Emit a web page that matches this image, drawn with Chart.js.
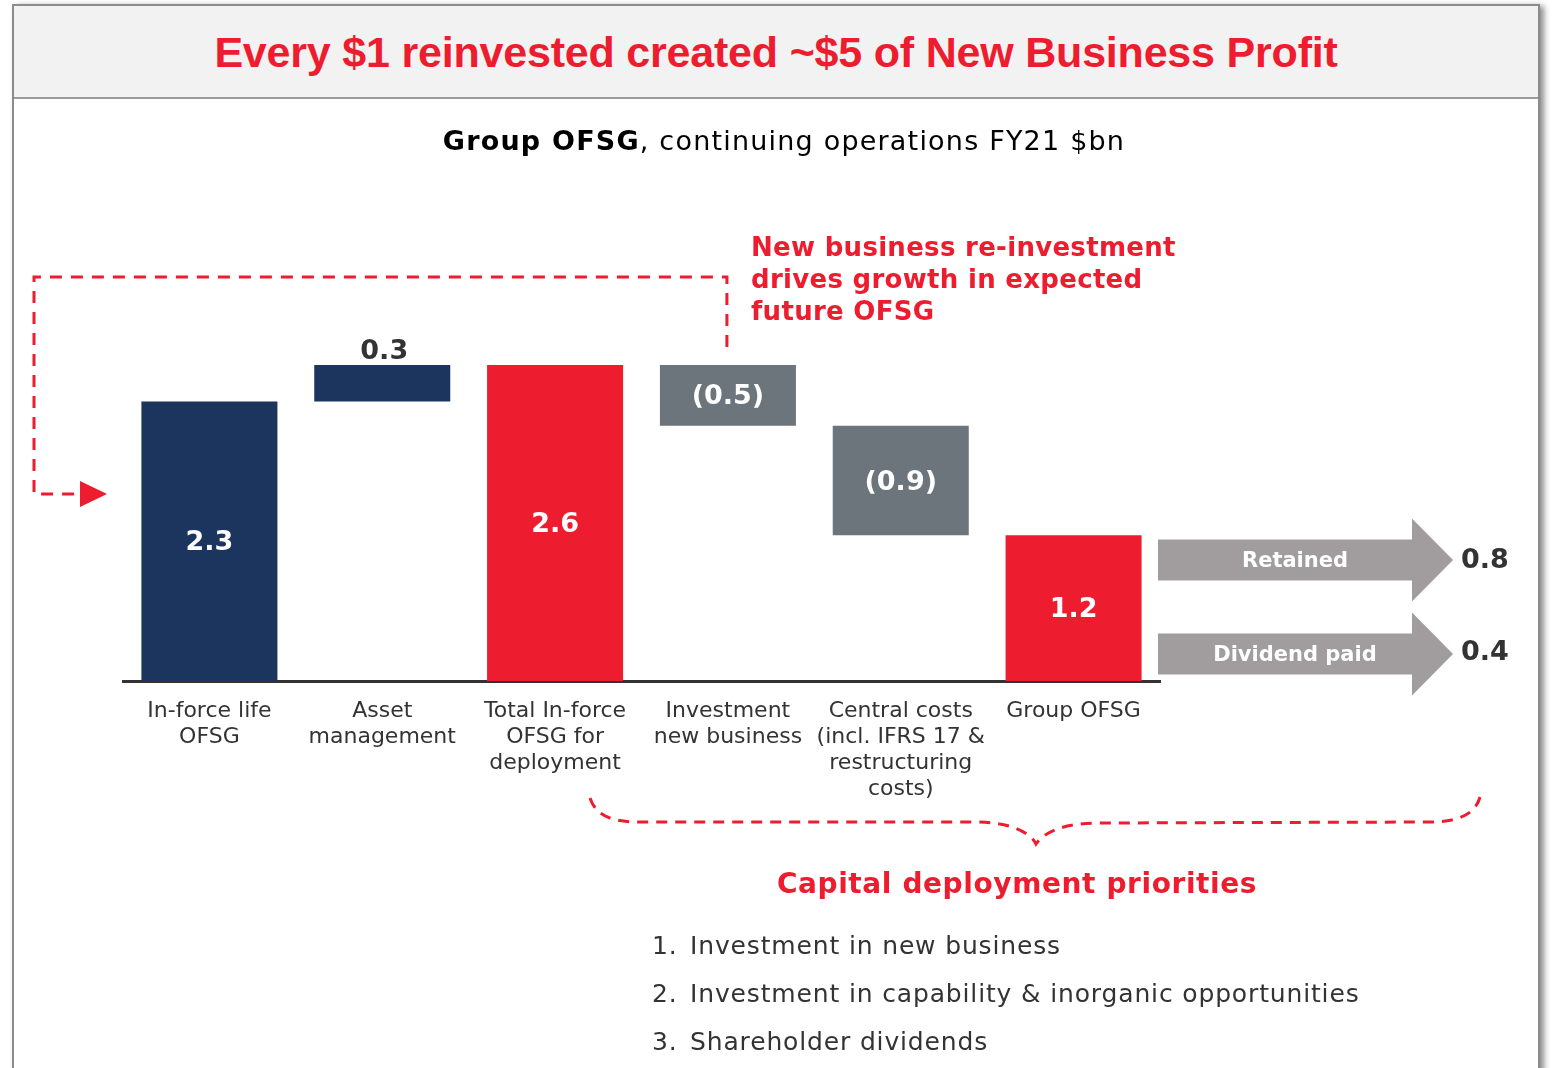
<!DOCTYPE html>
<html>
<head>
<meta charset="utf-8">
<title>Group OFSG FY21</title>
<script src="https://cdn.jsdelivr.net/npm/chart.js@4.4.1/dist/chart.umd.min.js"></script>
<style>
  html, body { margin: 0; padding: 0; background: #fff; }
  #page { position: relative; width: 1554px; height: 1068px; overflow: hidden;
          font-family: 'DejaVu Sans', Verdana, sans-serif; }
  #frame { position: absolute; left: 12px; top: 4px; width: 1524px; height: 1120px;
           border: 2px solid #8c8c8c; background: #fff;
           box-shadow: 4px 2px 6px rgba(0,0,0,0.45); }
  #band { position: absolute; left: 0; top: 0; right: 0; height: 91px; background: #f2f2f2;
          border-bottom: 2px solid #9a9a9a; }
  #title { position: absolute; left: 0; right: 0; top: 0; height: 91px;
           text-align: center; color: #ed1c2e;
           font: bold 43px 'Liberation Sans', Arial, sans-serif;
           line-height: 92px; letter-spacing: -0.2px; white-space: nowrap; }
  #subtitle { position: absolute; left: 784px; top: 121px; transform: translateX(-50%);
              white-space: nowrap; font-size: 27px; letter-spacing: 1.2px; line-height: 40px; color: #000; }
  #note { position: absolute; left: 751px; top: 231px; color: #ed1c2e; font-weight: bold;
          font-size: 26px; letter-spacing: 0.3px; line-height: 32px; white-space: nowrap; }
  #prioTitle { position: absolute; left: 1017px; top: 864px; transform: translateX(-50%);
               color: #ed1c2e; font-weight: bold; font-size: 28px; letter-spacing: 0.6px;
               line-height: 40px; white-space: nowrap; }
  #prioList { position: absolute; left: 652px; top: 922px; margin: 0; padding: 0; list-style: none;
              color: #333; font-size: 25px; letter-spacing: 0.85px; line-height: 48px; white-space: nowrap; }
  #prioList .n { display: inline-block; width: 38px; }
  #chartBox { position: absolute; left: 0; top: 0; width: 1554px; height: 1068px; }
</style>
</head>
<body>
<div id="page">
  <div id="frame">
    <div id="band"></div>
    <div id="title">Every $1 reinvested created ~$5 of New Business Profit</div>
  </div>
  <div id="chartBox"><canvas id="chart" width="1554" height="1068"></canvas></div>
  <div id="subtitle"><b>Group OFSG</b>, continuing operations FY21 $bn</div>
  <div id="note">New business re-investment<br>drives growth in expected<br>future OFSG</div>
  <div id="prioTitle">Capital deployment priorities</div>
  <ol id="prioList">
    <li><span class="n">1.</span>Investment in new business</li>
    <li><span class="n">2.</span>Investment in capability &amp; inorganic opportunities</li>
    <li><span class="n">3.</span>Shareholder dividends</li>
  </ol>
</div>
<script>
// Waterfall steps, $bn
const categories = [
  ['In-force life', 'OFSG'],
  ['Asset', 'management'],
  ['Total In-force', 'OFSG for', 'deployment'],
  ['Investment', 'new business'],
  ['Central costs', '(incl. IFRS 17 &', 'restructuring', 'costs)'],
  ['Group OFSG']
];
const steps = [2.3, 0.3, 2.6, -0.5, -0.9, 1.2];
const isSubtotal = [true, false, true, false, false, true];

// How the final Group OFSG is split
const splitLabels = ['Retained', 'Dividend paid'];
const splitValues = [0.8, 0.4];

const NAVY = '#1c355e', RED = '#ed1c2e', GREY = '#6b757b', ARROW = '#a19d9e', INK = '#333333';

// Build floating [from, to] ranges from the running total
const ranges = [];
let running = 0;
steps.forEach((v, i) => {
  if (isSubtotal[i]) { ranges.push([0, v]); running = v; }
  else { ranges.push([running, running + v]); running += v; }
});
const barColors = steps.map((v, i) => {
  if (v < 0) return GREY;
  if (isSubtotal[i] && i > 0) return RED;
  return NAVY;
});

const fmt = v => v < 0 ? '(' + Math.abs(v).toFixed(1) + ')' : v.toFixed(1);

const valueLabels = {
  id: 'valueLabels',
  afterDatasetsDraw(chart) {
    const { ctx } = chart;
    const meta = chart.getDatasetMeta(0);
    ctx.save();
    ctx.font = 'bold 27px "DejaVu Sans", Verdana, sans-serif';
    ctx.textAlign = 'center';
    ctx.textBaseline = 'middle';
    meta.data.forEach((bar, i) => {
      const v = steps[i];
      const top = Math.min(bar.y, bar.base), bottom = Math.max(bar.y, bar.base);
      if (!isSubtotal[i] && v > 0) {
        ctx.fillStyle = INK;
        ctx.fillText(fmt(v), bar.x + 2, top - 13);
      } else {
        ctx.fillStyle = '#ffffff';
        ctx.fillText(fmt(v), bar.x, (top + bottom) / 2 + 2);
      }
    });
    ctx.restore();
  }
};

const decorations = {
  id: 'decorations',
  afterDraw(chart) {
    const { ctx, chartArea: ca, scales: { x } } = chart;
    ctx.save();

    // Split arrows to the right of the final bar
    const yBase = ca.bottom;
    const centers = [yBase - 121, yBase - 27];
    splitLabels.forEach((lab, i) => {
      const cy = centers[i];
      const x0 = ca.right - 2, xNeck = ca.right + 252, xTip = ca.right + 293;
      ctx.fillStyle = ARROW;
      ctx.beginPath();
      ctx.moveTo(x0, cy - 20.5);
      ctx.lineTo(xNeck, cy - 20.5);
      ctx.lineTo(xNeck, cy - 41.5);
      ctx.lineTo(xTip, cy);
      ctx.lineTo(xNeck, cy + 41.5);
      ctx.lineTo(xNeck, cy + 20.5);
      ctx.lineTo(x0, cy + 20.5);
      ctx.closePath();
      ctx.fill();
      ctx.fillStyle = '#ffffff';
      ctx.font = 'bold 21px "DejaVu Sans", Verdana, sans-serif';
      ctx.textAlign = 'center';
      ctx.textBaseline = 'middle';
      ctx.fillText(lab, (x0 + xNeck) / 2 + 10, cy + 2);
      ctx.fillStyle = INK;
      ctx.font = 'bold 27px "DejaVu Sans", Verdana, sans-serif';
      ctx.textAlign = 'left';
      ctx.fillText(splitValues[i].toFixed(1), xTip + 8, cy + 1 - i * 2);
    });

    // Dashed feedback loop from new-business investment back to in-force
    ctx.strokeStyle = RED;
    ctx.lineWidth = 3;
    ctx.setLineDash([12, 9]);
    const xInv = x.getPixelForValue(3) - 1;
    const loopTop = 277, loopLeft = 34, loopY = 494;
    ctx.beginPath();
    ctx.moveTo(xInv, 347);
    ctx.lineTo(xInv, loopTop);
    ctx.lineTo(loopLeft, loopTop);
    ctx.lineTo(loopLeft, loopY);
    ctx.lineTo(84, loopY);
    ctx.stroke();
    ctx.setLineDash([]);
    ctx.fillStyle = RED;
    ctx.beginPath();
    ctx.moveTo(80, loopY - 13);
    ctx.lineTo(107, loopY);
    ctx.lineTo(80, loopY + 13);
    ctx.closePath();
    ctx.fill();

    // Dashed brace over the deployment items
    ctx.setLineDash([11, 8]);
    ctx.lineWidth = 3;
    ctx.beginPath();
    ctx.moveTo(590, 798);
    ctx.bezierCurveTo(596, 816, 612, 822, 640, 822);
    ctx.lineTo(975, 822);
    ctx.bezierCurveTo(1010, 822, 1030, 832, 1036, 844);
    ctx.bezierCurveTo(1044, 832, 1064, 823, 1100, 823);
    ctx.lineTo(1430, 822);
    ctx.bezierCurveTo(1462, 822, 1476, 812, 1480, 797);
    ctx.stroke();

    ctx.restore();
  }
};

new Chart(document.getElementById('chart'), {
  type: 'bar',
  data: {
    labels: categories,
    datasets: [{
      data: ranges,
      backgroundColor: barColors,
      borderWidth: 0,
      borderSkipped: false,
      barPercentage: 0.787,
      categoryPercentage: 1.0
    }]
  },
  options: {
    responsive: false,
    animation: false,
    events: [],
    layout: { padding: { left: 123, right: 394, top: 316.5, bottom: 187 } },
    plugins: { legend: { display: false }, tooltip: { enabled: false } },
    scales: {
      x: {
        grid: { display: false, drawTicks: false },
        border: { display: true, color: '#333333', width: 3 },
        ticks: {
          color: INK, padding: 17, maxRotation: 0, autoSkip: false,
          font: { family: '"DejaVu Sans", Verdana, sans-serif', size: 22, lineHeight: '26px' }
        },
        afterFit(scale) { scale.height = 200; }
      },
      y: { display: false, min: 0, max: 3.0 }
    }
  },
  plugins: [valueLabels, decorations]
});
</script>
</body>
</html>
